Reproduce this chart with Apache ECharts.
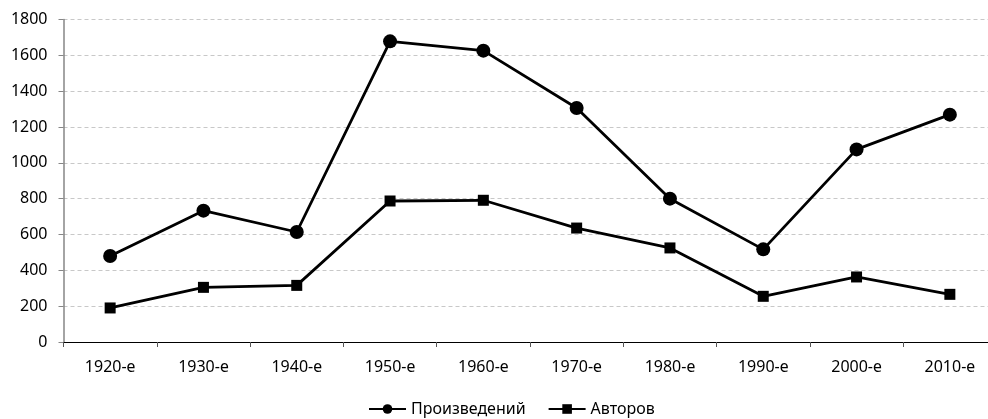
<!DOCTYPE html>
<html>
<head>
<meta charset="utf-8">
<script src="https://cdn.jsdelivr.net/npm/echarts@6/dist/echarts.min.js"></script>
<style>
  html, body { margin: 0; padding: 0; background: #fff; }
  #chart { width: 988px; height: 419px; }
</style>
</head>
<body>
<div id="chart"></div>
<script>
// Decades on the horizontal axis
const decades = ['1920-е', '1930-е', '1940-е', '1950-е', '1960-е', '1970-е', '1980-е', '1990-е', '2000-е', '2010-е'];
// Number of works per decade
const works = [480, 733, 614, 1678, 1626, 1306, 800, 517, 1075, 1269];
// Number of authors per decade
const authors = [190, 305, 316, 787, 791, 636, 525, 255, 363, 266];

const FONT = '"Noto Sans", sans-serif';

const chart = echarts.init(document.getElementById('chart'), null, { renderer: 'canvas' });

chart.setOption({
  animation: false,
  textStyle: { fontFamily: FONT },
  // the plot runs a little past the right edge of the canvas
  grid: {
    left: 63.5, width: 933, top: 19.5, bottom: 77,
    containLabel: false, outerBoundsMode: 'none'
  },
  legend: {
    bottom: 2,
    left: 368,
    padding: 0,
    itemWidth: 37,
    itemHeight: 12,
    itemGap: 22,
    textStyle: { fontFamily: FONT, fontSize: 16, color: '#000' },
    data: ['Произведений', 'Авторов']
  },
  xAxis: {
    type: 'category',
    data: decades,
    boundaryGap: true,
    axisLine: { lineStyle: { color: '#000', width: 1 } },
    axisTick: { show: true, length: 5, inside: false, lineStyle: { color: '#555' } },
    axisLabel: { color: '#000', fontSize: 16, margin: 17, fontFamily: FONT }
  },
  yAxis: {
    type: 'value',
    min: 0,
    max: 1800,
    interval: 200,
    axisLine: { show: true, lineStyle: { color: '#868686', width: 1.5 } },
    axisTick: { show: true, length: 5, lineStyle: { color: '#868686' } },
    axisLabel: {
      color: '#000', fontSize: 16, margin: 16, fontFamily: FONT,
      formatter: (v) => String(v)
    },
    splitLine: { lineStyle: { color: '#c8c8c8', type: [4, 3], width: 1 } }
  },
  series: [
    {
      name: 'Произведений',
      type: 'line',
      data: works,
      symbol: 'circle',
      symbolSize: 14,
      lineStyle: { color: '#000', width: 2.8 },
      itemStyle: { color: '#000' }
    },
    {
      name: 'Авторов',
      type: 'line',
      data: authors,
      symbol: 'rect',
      symbolSize: 11,
      lineStyle: { color: '#000', width: 2.8 },
      itemStyle: { color: '#000' }
    }
  ]
});
</script>
</body>
</html>
